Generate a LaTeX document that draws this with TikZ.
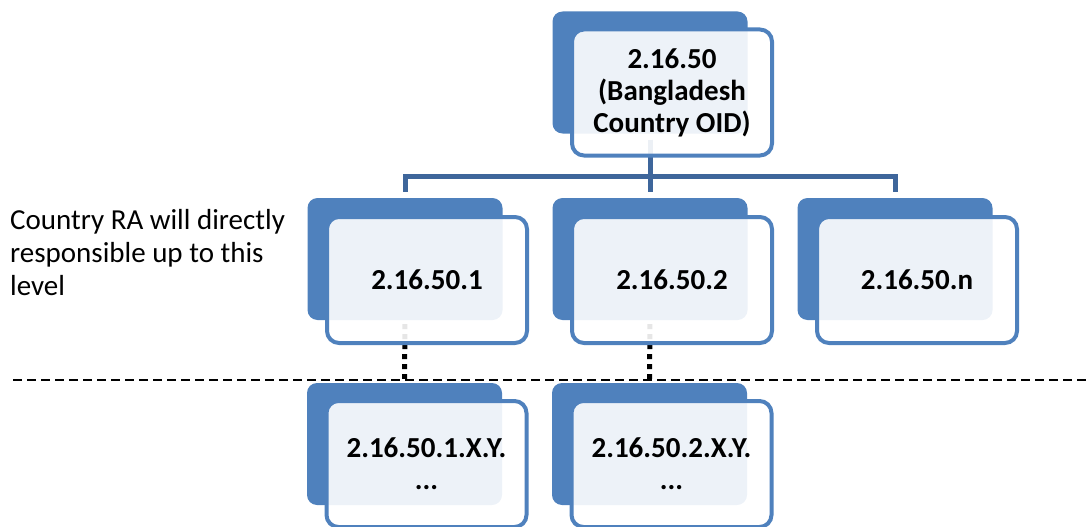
\documentclass[tikz,border=0pt]{standalone}
\usepackage{fontspec}
\setmainfont{Carlito}
\definecolor{oidblue}{RGB}{79,129,189}
\definecolor{linkblue}{RGB}{62,102,155}

\begin{document}
\begin{tikzpicture}[x=1pt, y=-1pt,
    backbox/.style={fill=oidblue, rounded corners=10pt, minimum width=195pt, minimum height=122pt, inner sep=0pt},
    frontbox/.style={draw=oidblue, line width=4pt, fill=white, fill opacity=0.9, text opacity=1,
      rounded corners=12pt, minimum width=200pt, minimum height=126pt, align=center,
      font=\fontsize{29}{32}\selectfont\bfseries},
    link/.style={draw=linkblue, line width=5pt, shorten <=6pt, shorten >=6pt},
    dots/.style={line width=5pt, dash pattern=on 5pt off 5pt, shorten <=4pt, shorten >=4pt}]
  \useasboundingbox (0,0) rectangle (1087,527);
  % back boxes
  \node[backbox] (top) at (650,72.5) {};
  \node[backbox] (b1) at (405,259) {};
  \node[backbox] (b2) at (650,259) {};
  \node[backbox] (b3) at (895,259) {};
  \node[backbox] (d1) at (404.5,444) {};
  \node[backbox] (d2) at (649.5,444) {};
  % tree lines
  \draw[link] (top.south) -- ++(0,43) -| (b1.north);
  \draw[link] (top.south) -- (b2.north);
  \draw[link] (top.south) -- ++(0,43) -| (b3.north);
  \draw[dots] (b1.south) -- (d1.north);
  \draw[dots] (b2.south) -- (d2.north);
  % front boxes
  \node[frontbox] (ftop) at ([shift={(22,20)}]top) {2.16.50\\(Bangladesh\\Country OID)};
  \node[frontbox] (f1) at ([shift={(22,21)}]b1) {2.16.50.1};
  \node[frontbox] (f2) at ([shift={(22,21)}]b2) {2.16.50.2};
  \node[frontbox] (f3) at ([shift={(22,21)}]b3) {2.16.50.n};
  \node[frontbox] (g1) at ([shift={(22,20)}]d1) {2.16.50.1.X.Y.\\...};
  \node[frontbox] (g2) at ([shift={(22,20)}]d2) {2.16.50.2.X.Y.\\...};
  % level border
  \coordinate (sepL) at (13,380);
  \coordinate (sepR) at (1087,380);
  \draw[line width=2pt, dash pattern=on 9pt off 5pt] (sepL) -- (sepR);
  \node[anchor=north west, inner sep=0pt, align=left, font=\fontsize{29}{33}\selectfont] (note) at (10,209)
    {Country RA will directly\\responsible up to this\\level};
\end{tikzpicture}
\end{document}
